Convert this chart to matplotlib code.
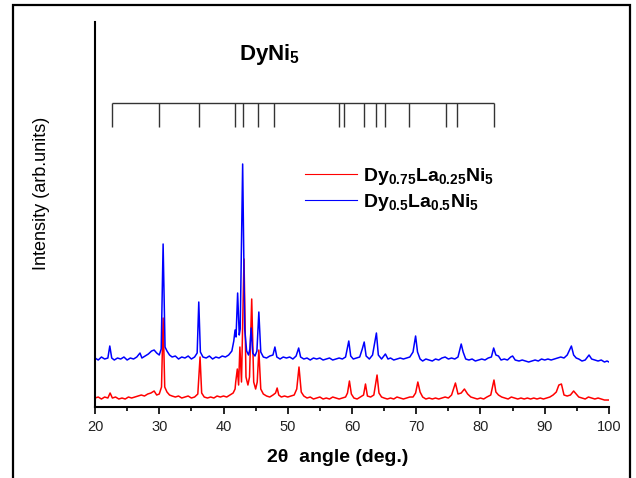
import matplotlib
matplotlib.use('Agg')
import matplotlib.pyplot as plt
from matplotlib.patches import Rectangle

plt.rcParams['font.family'] = ['Liberation Sans', 'DejaVu Sans']
plt.rcParams['mathtext.fontset'] = 'custom'
plt.rcParams['mathtext.rm'] = 'Liberation Sans'
plt.rcParams['mathtext.bf'] = 'Liberation Sans:bold'

# Data (2theta in deg, intensity in arb. units)
blue_tt = [20.0, 20.5, 21.0, 21.5, 22.0, 22.3, 22.6, 23.0, 23.5, 24.0, 24.5, 25.0, 25.5, 26.0, 26.5, 27.0,
           27.3, 27.8, 28.3, 28.8, 29.2, 29.6, 30.0, 30.3, 30.6, 30.9, 31.2, 31.6, 32.0, 32.5, 33.0, 33.5,
           34.0, 34.5, 35.0, 35.5, 35.9, 36.15, 36.4, 36.8, 37.3, 37.8, 38.3, 38.8, 39.3, 39.8, 40.3, 40.8,
           41.3, 41.6, 41.8, 41.95, 42.2, 42.45, 42.6, 42.98, 43.3, 43.6, 43.9, 44.1, 44.3, 44.55, 44.9, 45.2,
           45.5, 45.8, 46.2, 46.7, 47.2, 47.7, 48.0, 48.3, 48.8, 49.3, 49.8, 50.3, 50.8, 51.3, 51.7, 52.0,
           52.5, 53.0, 53.5, 54.0, 54.5, 55.0, 55.5, 56.0, 56.5, 57.0, 57.5, 58.0, 58.5, 59.0, 59.5, 59.8,
           60.2, 60.7, 61.2, 61.6, 61.9, 62.2, 62.7, 63.2, 63.8, 64.1, 64.6, 65.2, 65.6, 66.0, 66.5, 67.0,
           67.5, 68.0, 68.5, 69.0, 69.5, 69.9, 70.2, 70.6, 71.0, 71.5, 72.0, 72.5, 73.0, 73.5, 74.0, 74.5,
           75.0, 75.5, 76.0, 76.5, 77.0, 77.3, 77.7, 78.2, 78.7, 79.2, 79.7, 80.2, 80.7, 81.2, 81.7, 82.05,
           82.4, 82.8, 83.2, 83.7, 84.2, 84.7, 85.0, 85.4, 86.0, 86.5, 87.0, 87.5, 88.0, 88.5, 89.0, 89.5,
           90.0, 90.5, 91.0, 91.5, 92.0, 92.5, 93.0, 93.5, 94.15, 94.5, 94.9, 95.3, 95.8, 96.3, 96.9, 97.3,
           97.8, 98.3, 98.8, 99.3, 99.7, 100.0]
blue_int = [49, 47, 50, 48, 49, 61, 49, 47, 49, 48, 50, 47, 49, 48, 50, 54,
            49, 51, 53, 56, 57, 54, 52, 58, 163, 60, 56, 52, 50, 51, 48, 50,
            49, 51, 48, 50, 54, 105, 55, 50, 49, 51, 48, 50, 49, 51, 50, 52,
            56, 66, 77, 70, 114, 72, 78, 243, 78, 56, 52, 58, 79, 54, 51, 56,
            95, 55, 50, 49, 51, 52, 60, 50, 48, 50, 49, 50, 48, 51, 59, 50,
            48, 49, 47, 49, 48, 49, 47, 48, 49, 47, 48, 49, 48, 50, 66, 51,
            48, 49, 50, 58, 65, 51, 48, 52, 74, 52, 48, 53, 48, 49, 47, 48,
            49, 48, 49, 50, 55, 71, 55, 48, 46, 48, 47, 46, 48, 47, 49, 50,
            48, 49, 48, 50, 63, 55, 48, 47, 48, 46, 47, 48, 47, 49, 50, 59,
            52, 51, 47, 48, 47, 50, 51, 47, 46, 47, 46, 45, 46, 47, 46, 48,
            47, 48, 47, 48, 49, 50, 49, 52, 61, 52, 49, 48, 46, 47, 52, 48,
            47, 46, 47, 45, 46, 45]

red_tt = [20.0, 20.5, 21.0, 21.5, 22.0, 22.35, 22.7, 23.2, 23.7, 24.2, 24.7, 25.2, 25.7, 26.2, 26.7, 27.2,
          27.7, 28.2, 28.7, 29.2, 29.6, 30.0, 30.35, 30.6, 30.85, 31.2, 31.6, 32.0, 32.5, 33.0, 33.5, 34.0,
          34.5, 35.0, 35.5, 36.0, 36.35, 36.6, 37.0, 37.5, 38.0, 38.5, 39.0, 39.5, 40.0, 40.5, 41.0, 41.5,
          41.8, 41.9, 42.15, 42.35, 42.55, 42.8, 43.19, 43.5, 43.8, 44.05, 44.39, 44.7, 45.0, 45.25, 45.5, 45.8,
          46.2, 46.7, 47.2, 47.7, 48.1, 48.35, 48.6, 49.0, 49.5, 50.0, 50.5, 51.0, 51.4, 51.75, 52.1, 52.5,
          53.0, 53.5, 54.0, 54.5, 55.0, 55.5, 56.0, 56.5, 57.0, 57.5, 58.0, 58.5, 59.0, 59.3, 59.6, 59.9,
          60.3, 60.8, 61.3, 61.8, 62.1, 62.4, 62.9, 63.4, 63.9, 64.2, 64.6, 65.0, 65.5, 66.0, 66.5, 67.0,
          67.5, 68.0, 68.5, 69.0, 69.5, 69.9, 70.25, 70.6, 71.0, 71.5, 72.0, 72.5, 73.0, 73.5, 74.0, 74.5,
          75.0, 75.5, 76.1, 76.5, 77.0, 77.5, 78.0, 78.5, 79.0, 79.5, 80.0, 80.5, 81.0, 81.6, 82.1, 82.4,
          82.8, 83.3, 83.8, 84.3, 84.8, 85.3, 85.8, 86.3, 86.8, 87.3, 87.8, 88.3, 88.8, 89.3, 89.8, 90.3,
          90.8, 91.3, 91.8, 92.2, 92.6, 93.0, 93.5, 94.0, 94.5, 94.9, 95.3, 95.8, 96.3, 96.8, 97.3, 97.8,
          98.3, 98.8, 99.3, 100.0]
red_int = [9, 10, 8, 10, 9, 14, 9, 10, 8, 9, 8, 10, 9, 10, 11, 12,
           11, 13, 14, 16, 12, 13, 20, 89, 20, 15, 12, 11, 10, 11, 9, 10,
           11, 9, 10, 13, 50, 14, 10, 9, 10, 9, 11, 10, 11, 10, 12, 14,
           18, 25, 38, 22, 60, 25, 148, 30, 22, 30, 108, 25, 18, 25, 57, 18,
           13, 11, 10, 12, 14, 19, 12, 10, 11, 10, 11, 12, 18, 40, 15, 11,
           9, 10, 8, 9, 10, 8, 9, 8, 10, 9, 8, 9, 10, 14, 26, 13,
           9, 8, 10, 12, 23, 11, 10, 12, 32, 14, 10, 9, 8, 9, 8, 10,
           9, 8, 9, 10, 10, 14, 25, 15, 10, 8, 9, 8, 9, 8, 9, 10,
           9, 12, 24, 13, 14, 18, 13, 10, 9, 8, 9, 8, 10, 12, 27, 15,
           12, 10, 9, 8, 10, 9, 8, 9, 8, 9, 8, 9, 8, 9, 8, 9,
           10, 12, 15, 22, 23, 12, 11, 12, 16, 13, 10, 9, 8, 10, 9, 8,
           9, 8, 7, 7]

# DyNi5 reference reflections
ref_tt = [22.7, 30.0, 36.2, 41.8, 43.0, 45.4, 47.9, 58.0, 58.8, 61.9, 63.7, 65.2, 68.9, 74.6, 76.4, 82.15]

label_red = r'Dy$_{\mathbf{0.75}}$La$_{\mathbf{0.25}}$Ni$_{\mathbf{5}}$'
label_blue = r'Dy$_{\mathbf{0.5}}$La$_{\mathbf{0.5}}$Ni$_{\mathbf{5}}$'

fig = plt.figure(figsize=(6.36, 4.78), dpi=100)
ax = fig.add_axes([0.1494, 0.1485, 0.8081, 0.8055])

ax.plot(red_tt, red_int, color='#ff0000', lw=1.1, label=label_red)
ax.plot(blue_tt, blue_int, color='#0000ff', lw=1.1, label=label_blue)

# stick pattern
ax.vlines(ref_tt, 280, 304, color='#333333', lw=1.0)
ax.hlines(304, ref_tt[0], ref_tt[-1], color='#333333', lw=1.0)
ax.text(47.2, 352, r'DyNi$_{\mathbf{5}}$', fontsize=16, fontweight='bold',
        ha='center', va='center')

ax.set_xlim(20, 100)
ax.set_ylim(0, 385)
ax.set_xticks(range(20, 101, 10))
ax.set_xticks(range(25, 100, 10), minor=True)
ax.set_yticks([])
for s in ['top', 'right']:
    ax.spines[s].set_visible(False)
for s in ['left', 'bottom']:
    ax.spines[s].set_linewidth(1.5)
ax.tick_params(axis='x', which='major', direction='out', length=5, width=1.2,
               labelsize=10.5, pad=4, labelcolor='#222222')
ax.tick_params(axis='x', which='minor', direction='out', length=3, width=1.2)

leg = ax.legend(loc='upper left', bbox_to_anchor=(0.389, 0.652), frameon=False,
                prop={'weight': 'bold', 'size': 14},
                handlelength=2.7, handletextpad=0.3, labelspacing=0.28, borderpad=0)
for h in leg.get_lines():
    h.set_linewidth(0.8)

fig.text(0.531, 0.042, '2θ  angle (deg.)', fontsize=14, fontweight='bold',
         ha='center', va='center')
fig.text(0.066, 0.596, 'Intensity (arb.units)', fontsize=13, rotation=90,
         ha='center', va='center')

# outer frame
fig.patches.append(Rectangle((0.0204, -0.1), 0.9702, 1.0895, transform=fig.transFigure,
                             fill=False, edgecolor='black', lw=1.6))

fig.savefig('out.png', dpi=100)
